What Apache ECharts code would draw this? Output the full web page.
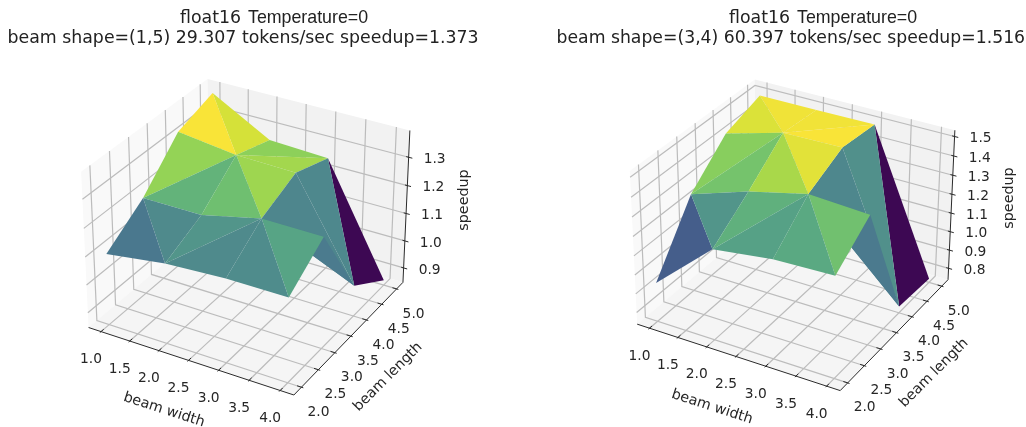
<!DOCTYPE html>
<html><head><meta charset="utf-8">
<style>html,body{margin:0;padding:0;background:#fff}#c{width:1026px;height:427px}</style>
<script src="https://cdn.jsdelivr.net/npm/echarts@6/dist/echarts.min.js"></script>
</head><body><div id="c"></div>
<script>
// ---- data ----
const beamWidths = [1, 2, 3, 4];
const beamLengths = [2, 3, 4, 5];
const xTicks = [1.0, 1.5, 2.0, 2.5, 3.0, 3.5, 4.0];
const yTicks = [2.0, 2.5, 3.0, 3.5, 4.0, 4.5, 5.0];
const zTicksLeft = [0.9, 1.0, 1.1, 1.2, 1.3];
const zTicksRight = [0.8, 0.9, 1.0, 1.1, 1.2, 1.3, 1.4, 1.5];
// speedup by beam length (rows) and beam width (columns)
const speedLeft = [
  [1.10, 1.13, 1.143, 1.143],
  [1.193, 1.192, 1.241, 1.239],
  [1.328, 1.302, 1.297, 0.957],
  [1.373, 1.259, 1.249, 0.864]
];
const speedRight = [
  [0.942, 1.211, 1.252, 1.264],
  [1.254, 1.353, 1.426, 1.409],
  [1.427, 1.51, 1.516, 0.771],
  [1.492, 1.493, 1.495, 0.758]
];
const triangles = ['a0 a1 b0','a1 b1 b0','a1 a2 b2','a1 b2 b1','a2 a3 b2','a3 b3 b2','b0 b1 c1','b0 c1 c0','b1 b2 c1','b2 c2 c1','b2 c3 c2','b2 b3 c3','c0 c1 d0','c1 d1 d0','c1 d2 d1','c1 c2 d2','c2 c3 d2','c3 d3 d2'];
const colorRamp = ['#3d0853','#43256f','#425288','#47688e','#4b7c8e','#508e8c','#58a684','#6abc74','#90d258','#c8e03a','#f9e438'];

const panels = [
 {t:[180,248,7.5], fs:17.35, title1a:'float16', title1b:'Temperature=0', title2:'beam shape=(1,5) 29.307 tokens/sec speedup=1.373',
  z:speedLeft, zTicks:zTicksLeft, zlo:0.846, zhi:1.393,
  anchors:[[0,0,0,88,327],[1,0,0,294,395],[1,1,0,403,283],[1,1,1,410,130],[0,0,1,82,172],[0,1,1,207,79]],
  xTitle:[164,410], yTitle:[388,377], zTitle:[464,200]},
 {t:[729,797,556.5], fs:17.25, title1a:'float16', title1b:'Temperature=0', title2:'beam shape=(3,4) 60.397 tokens/sec speedup=1.516',
  z:speedRight, zTicks:zTicksRight, zlo:0.737, zhi:1.532,
  anchors:[[0,0,0,637,324],[1,0,0,840,390],[1,1,0,948,281],[1,1,1,955,131],[0,0,1,630,170],[0,1,1,755,79]],
  xTitle:[712,407], yTitle:[934,373], zTitle:[1009,198]}
];

const XLO=0.78125, XHI=4.21875, YLO=1.78125, YHI=5.21875;
const elev=30*Math.PI/180, azim=-60*Math.PI/180, dist=10;
const box=[1.143,1.143,0.857];
const wv=[Math.cos(elev)*Math.cos(azim),Math.cos(elev)*Math.sin(azim),Math.sin(elev)];
const uv=(()=>{const n=Math.hypot(wv[0],wv[1]);return [-wv[1]/n,wv[0]/n,0];})();
const vv=[wv[1]*uv[2]-wv[2]*uv[1],wv[2]*uv[0]-wv[0]*uv[2],wv[0]*uv[1]-wv[1]*uv[0]];
function view(fx,fy,fz){ // fractions of the pane box
  const p=[(fx-.5)*box[0]*1.0417,(fy-.5)*box[1]*1.0417,(fz-.5)*box[2]*1.0417];
  const d=p[0]*wv[0]+p[1]*wv[1]+p[2]*wv[2];
  const k=dist/(dist-d);
  return [k*(p[0]*uv[0]+p[1]*uv[1]+p[2]*uv[2]),k*(p[0]*vv[0]+p[1]*vv[1]+p[2]*vv[2]),d];
}
function fit(xs,ys){const n=xs.length,mx=xs.reduce((a,b)=>a+b)/n,my=ys.reduce((a,b)=>a+b)/n;
  let s=0,t=0;xs.forEach((x,i)=>{s+=(x-mx)*(ys[i]-my);t+=(x-mx)*(x-mx);});const a=s/t;return [a,my-a*mx];}

function colorAt(t){t=Math.max(0,Math.min(1,t))*10;const i=Math.min(9,Math.floor(t)),f=t-i;
  const h=c=>[1,3,5].map(k=>parseInt(c.substr(k,2),16));const a=h(colorRamp[i]),b=h(colorRamp[i+1]);
  return 'rgb('+a.map((v,k)=>Math.round(v+(b[k]-v)*f)).join(',')+')';}

const series=[];
const FONT='"DejaVu Sans"';
function build(P){
  const vs=P.anchors.map(a=>view(a[0],a[1],a[2]));
  const fx=fit(vs.map(v=>v[0]),P.anchors.map(a=>a[3]));
  const fy=fit(vs.map(v=>v[1]),P.anchors.map(a=>a[4]));
  const fr=(x,y,z)=>[(x-XLO)/(XHI-XLO),(y-YLO)/(YHI-YLO),(z-P.zlo)/(P.zhi-P.zlo)];
  const proj=(x,y,z)=>{const f=fr(x,y,z),v=view(f[0],f[1],f[2]);return [fx[0]*v[0]+fx[1],fy[0]*v[1]+fy[1],v[2]];};
  const zl=P.zlo,zh=P.zhi;
  const panes=[
    {pts:[[XLO,YLO,zl],[XLO,YHI,zl],[XLO,YHI,zh],[XLO,YLO,zh]],fill:'#f9f9f9'},
    {pts:[[XLO,YHI,zl],[XHI,YHI,zl],[XHI,YHI,zh],[XLO,YHI,zh]],fill:'#f2f2f2'},
    {pts:[[XLO,YLO,zl],[XHI,YLO,zl],[XHI,YHI,zl],[XLO,YHI,zl]],fill:'#f5f5f5'}
  ];
  series.push({type:'custom',coordinateSystem:'cartesian2d',silent:true,z:1,clip:false,
    data:panes.map((_,i)=>[i]),
    renderItem:(pr,api)=>{const p=panes[api.value(0)];
      return {type:'polygon',shape:{points:p.pts.map(q=>{const m=proj(q[0],q[1],q[2]);return api.coord([m[0],m[1]]);})},style:{fill:p.fill}};}});
  const grids=[];
  xTicks.forEach(t=>grids.push([[t,YLO,zl],[t,YHI,zl],[t,YHI,zh]]));
  yTicks.forEach(t=>grids.push([[XHI,t,zl],[XLO,t,zl],[XLO,t,zh]]));
  P.zTicks.forEach(t=>grids.push([[XLO,YLO,t],[XLO,YHI,t],[XHI,YHI,t]]));
  series.push(lines(grids,proj,'#bcbcbc',1.2,2));
  const axes=[[[XLO,YLO,zl],[XHI,YLO,zl]],[[XHI,YLO,zl],[XHI,YHI,zl]],[[XHI,YHI,zl],[XHI,YHI,zh]]];
  xTicks.forEach(t=>axes.push([[t,YLO-0.03,zl],[t,YLO+0.07,zl]]));
  yTicks.forEach(t=>axes.push([[XHI-0.07,t,zl],[XHI+0.03,t,zl]]));
  P.zTicks.forEach(t=>axes.push([[XHI+0.06,YHI,t],[XHI-0.04,YHI,t]]));
  series.push(lines(axes,proj,'#2b2b2b',1,3));
  const pick=s=>{const j='abcd'.indexOf(s[0]),i=+s[1];return [beamWidths[i],beamLengths[j],P.z[j][i]];};
  const tris=triangles.map(t=>{const q=t.split(' ').map(pick);
    const avg=(q[0][2]+q[1][2]+q[2][2])/3;
    const depth=q.map(v=>proj(v[0],v[1],v[2])[2]).reduce((a,b)=>a+b)/3;
    return {q,avg,depth};});
  const lo=Math.min(...tris.map(t=>t.avg)),hi=Math.max(...tris.map(t=>t.avg));
  tris.sort((a,b)=>a.depth-b.depth);
  series.push({type:'custom',coordinateSystem:'cartesian2d',silent:true,z:4,clip:false,
    data:tris.map((t,i)=>[i,t.avg]),
    renderItem:(pr,api)=>{const t=tris[api.value(0)];
      return {type:'polygon',shape:{points:t.q.map(v=>{const m=proj(v[0],v[1],v[2]);return api.coord([m[0],m[1]]);})},
        style:{fill:colorAt((t.avg-lo)/(hi-lo))}};}});
  const texts=[];
  xTicks.forEach(t=>{const m=proj(t,YLO,zl);texts.push([m[0]-10,m[1]+28,t.toFixed(1),0,13.8]);});
  yTicks.forEach(t=>{const m=proj(XHI,t,zl);texts.push([m[0]+17,m[1]+25,t.toFixed(1),0,13.8]);});
  P.zTicks.forEach(t=>{const m=proj(XHI,YHI,t);texts.push([m[0]+26,m[1]+2,t.toFixed(1),0,13.8]);});
  texts.push([P.xTitle[0],P.xTitle[1],'beam width',-18,14.3]);
  texts.push([P.yTitle[0],P.yTitle[1],'beam length',45,14.3]);
  texts.push([P.zTitle[0],P.zTitle[1],'speedup',90,14.3]);
  series.push({type:'custom',coordinateSystem:'cartesian2d',silent:true,z:5,clip:false,
    data:texts.map((t,i)=>[t[0],t[1],i]),
    renderItem:(pr,api)=>{const t=texts[api.value(2)],c=api.coord([t[0],t[1]]);
      return {type:'text',x:c[0],y:c[1],rotation:t[3]*Math.PI/180,
        style:{text:t[2],font:t[4]+'px '+FONT,fill:'#262626',align:'center',verticalAlign:'middle'}};}});
}
function lines(segs,proj,color,w,z){
  return {type:'custom',coordinateSystem:'cartesian2d',silent:true,z,clip:false,
    data:segs.map((_,i)=>[i]),
    renderItem:(pr,api)=>{const s=segs[api.value(0)];
      return {type:'polyline',shape:{points:s.map(q=>{const m=proj(q[0],q[1],q[2]);return api.coord([m[0],m[1]]);})},
        style:{stroke:color,lineWidth:w,fill:null}};}};
}
panels.forEach(build);
const titles=[];
panels.forEach(P=>{
  titles.push({text:P.title1a,left:P.t[0],top:10,textStyle:{fontFamily:FONT,fontSize:17.35,fontWeight:'normal',color:'#222'},padding:0});
  titles.push({text:P.title1b,left:P.t[1],top:9,textStyle:{fontFamily:'"Liberation Sans"',fontSize:17.8,fontWeight:'normal',color:'#222'},padding:0});
  titles.push({text:P.title2,left:P.t[2],top:30,textStyle:{fontFamily:FONT,fontSize:P.fs,fontWeight:'normal',color:'#222'},padding:0});
});
const chart=echarts.init(document.getElementById('c'),null,{renderer:'canvas'});
chart.setOption({animation:false,backgroundColor:'#fff',title:titles,
  grid:{left:0,right:0,top:0,bottom:0},
  xAxis:{type:'value',min:0,max:1026,show:false},
  yAxis:{type:'value',min:0,max:427,inverse:true,show:false},
  series});
</script></body></html>
